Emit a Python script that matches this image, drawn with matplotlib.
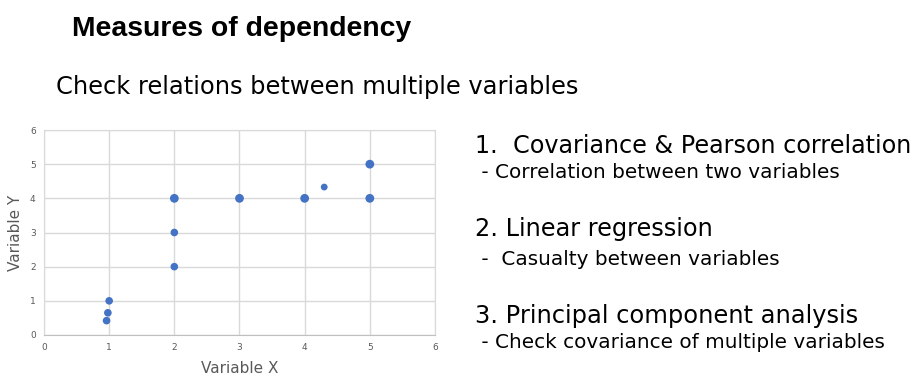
import matplotlib
matplotlib.use("Agg")
import matplotlib.pyplot as plt

# data
x_vals = [0.96, 0.98, 1.0, 2.0, 2.0, 2.0, 3.0, 4.0, 4.3, 5.0, 5.0]
y_vals = [0.42, 0.65, 1.0, 2.0, 3.0, 4.0, 4.0, 4.0, 4.33, 4.0, 5.0]
counts = [1, 1, 1, 1, 1, 2, 2, 2, 1, 2, 2]
x_ticks = [0, 1, 2, 3, 4, 5, 6]
y_ticks = [0, 1, 2, 3, 4, 5, 6]

title = "Measures of dependency"
subtitle = "Check relations between multiple variables"
items = [
    ("1.  Covariance & Pearson correlation", " - Correlation between two variables"),
    ("2. Linear regression", " -  Casualty between variables"),
    ("3. Principal component analysis", " - Check covariance of multiple variables"),
]

W, H = 918, 386
fig = plt.figure(figsize=(W / 100, H / 100), dpi=100)
fig.patch.set_facecolor("white")

def fx(px):
    return px / W

def fy(py):
    return 1 - py / H

fig.text(fx(72), fy(36), title, fontsize=20.4, fontweight="bold",
         family="Liberation Sans", color="black", va="baseline", ha="left")
fig.text(fx(56), fy(94), subtitle, fontsize=17.35,
         family="DejaVu Sans", color="black", va="baseline", ha="left")

ax = fig.add_axes([fx(44), fy(335), fx(435) - fx(44), fy(130) - fy(335)])
sizes = [30 if c == 1 else 40 for c in counts]
sizes[8] = 24
ax.scatter(x_vals, y_vals, s=sizes, color="#4472C4", zorder=3, linewidths=0)
ax.set_xlim(0, 6)
ax.set_ylim(0, 6)
ax.set_xticks(x_ticks)
ax.set_yticks(y_ticks)
ax.grid(True, color="#d9d9d9", linewidth=1)
for s in ax.spines.values():
    s.set_color("#d9d9d9")
ax.spines["bottom"].set_color("#bfbfbf")
ax.tick_params(length=0, labelsize=6.5, labelcolor="#595959", pad=6)
ax.set_xlabel("Variable X", fontsize=11, color="#595959", labelpad=6)
ax.set_ylabel("Variable Y", fontsize=11, color="#595959", labelpad=5)

ybase = [153, 178, 236, 265, 323, 348]
head_sizes = [17.2, 17.3, 17.35]
i = 0
for k, (head, sub) in enumerate(items):
    fig.text(fx(475), fy(ybase[i]), head, fontsize=head_sizes[k], family="DejaVu Sans",
             color="black", va="baseline", ha="left")
    fig.text(fx(475), fy(ybase[i + 1]), sub, fontsize=14.45, family="DejaVu Sans",
             color="black", va="baseline", ha="left")
    i += 2

fig.savefig("out.png", dpi=100, facecolor="white")
